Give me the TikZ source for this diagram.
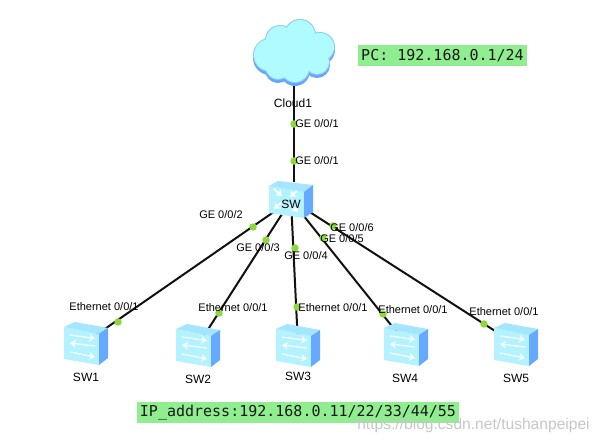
\documentclass[tikz,border=0pt]{standalone}
\usepackage{fontspec}
\usetikzlibrary{arrows.meta}
\setmainfont{Liberation Sans}
\newfontfamily\monof{DejaVu Sans Mono}
\definecolor{wire}{HTML}{111111}
\definecolor{dotg}{HTML}{8CD93C}
\definecolor{boxg}{HTML}{90EE90}
\definecolor{icfront}{HTML}{B4F2FF}
\definecolor{ictop}{HTML}{A4E6FF}
\definecolor{icside}{HTML}{66AAFF}
\definecolor{cloudf}{HTML}{B0FBFF}
\definecolor{cloude}{HTML}{8CCBFF}
\definecolor{cloudb}{HTML}{6AA6F2}
\tikzset{
 wirel/.style={draw=wire,line width=1.5pt},
 portdot/.style={circle,fill=dotg,inner sep=0pt,minimum size=5.6pt},
 lab/.style={inner sep=0pt,font=\fontsize{8.25pt}{10pt}\selectfont,text=black},
 devlab/.style={inner sep=0pt,font=\fontsize{9pt}{11pt}\selectfont,text=black},
 note/.style={fill=boxg,inner sep=0pt,font=\fontsize{11.25pt}{13pt}\selectfont\monof,text=black!90},
 whitearrow/.style={draw=white,opacity=0.85,line width=1pt,-{Stealth[length=4.5pt,width=6pt]}},
 corearrow/.style={draw=white,line width=1.4pt,-{Stealth[length=4.5pt,width=6pt]}},
 pics/cloudicon/.style={code={
   \foreach \px/\py/\pr in {270/55/17,280/40/15,300/35/16,320/47/15,317/62/13,295/68/15,278/67/13,295/52/20}{
     \fill[cloudb] (\px,\py+3) circle[radius=\pr*0.75pt];}
   \foreach \px/\py/\pr in {270/55/17,280/40/15,300/35/16,320/47/15,317/62/13,295/68/15,278/67/13,295/52/20}{
     \fill[cloude] (\px,\py) circle[radius=\pr*0.75pt];}
   \foreach \px/\py/\pr in {270/55/17,280/40/15,300/35/16,320/47/15,317/62/13,295/68/15,278/67/13,295/52/20}{
     \fill[cloudf] (\px,\py) circle[radius=(\pr-1)*0.75pt];}
 }},
 pics/accessicon/.style={code={
   \fill[icfront] (0,5)--(35,12)--(35,43)--(0,37)--cycle;
   \fill[ictop] (0,5)--(11,0)--(44,6)--(35,12)--cycle;
   \fill[icside] (35,12)--(44,6)--(44,36)--(35,43)--cycle;
   \draw[whitearrow] (6,13)--(31,16.5);
   \draw[whitearrow] (31,24)--(6,21);
   \draw[whitearrow] (6,30)--(31,35);
 }},
 pics/coreicon/.style={code={
   \fill[icfront] (0,5)--(35,11)--(35,37)--(0,32)--cycle;
   \fill[ictop] (0,5)--(9,0)--(44,4)--(35,11)--cycle;
   \fill[icside] (35,11)--(44,4)--(44,31)--(35,37)--cycle;
   \draw[corearrow] (5,8)--(13,15);
   \draw[corearrow] (28,10)--(21,16);
   \draw[corearrow] (13,21)--(5,28);
   \draw[corearrow] (21,23)--(29,31);
 }}
}
\begin{document}
\begin{tikzpicture}[x=0.75pt,y=-0.75pt]
\useasboundingbox (0,0) rectangle (602,444);
\fill[white] (0,0) rectangle (602,444);
% anchors of the devices
\coordinate (cloud) at (294,60);
\coordinate (sw) at (291,200);
\coordinate (swtop) at (294,182);
\coordinate (s1) at (86,342);
\coordinate (s2) at (198,345);
\coordinate (s3) at (298,345);
\coordinate (s4) at (407,345);
\coordinate (s5) at (520,347);
% connectors
\draw[wirel] (cloud) -- (swtop);
\draw[wirel] (sw) -- (s1);
\draw[wirel] (sw) -- (s2);
\draw[wirel] (sw) -- (s3);
\draw[wirel] (sw) -- (s4);
\draw[wirel] (sw) -- (s5);
% icons
\pic {cloudicon};
\pic at (269,181) {coreicon};
\pic at (64,322) {accessicon};
\pic at (176,324) {accessicon};
\pic at (276,324) {accessicon};
\pic at (384,323) {accessicon};
\pic at (494,323) {accessicon};
% port dots
\foreach \n/\x/\y in {a/294/124,b/294/161,c/253/227,d/266/240,e/295/248,f/323/238,g/333/226,h/118/322,i/219/313,j/297/307,k/383/314,l/484/324}
  \node[portdot] (dot\n) at (\x,\y) {};
% labels
\node[lab] (l1) at (317,124) {GE 0/0/1};
\node[lab] (l2) at (317,161) {GE 0/0/1};
\node[lab] (l3) at (221,215) {GE 0/0/2};
\node[lab] (l4) at (258,248) {GE 0/0/3};
\node[lab] (l5) at (306,256) {GE 0/0/4};
\node[lab] (l6) at (342,239) {GE 0/0/5};
\node[lab] (l7) at (352,228) {GE 0/0/6};
\node[lab] (e1) at (104,307) {Ethernet 0/0/1};
\node[lab] (e2) at (233,308) {Ethernet 0/0/1};
\node[lab] (e3) at (333,308) {Ethernet 0/0/1};
\node[lab] (e4) at (413,310) {Ethernet 0/0/1};
\node[lab] (e5) at (504,312) {Ethernet 0/0/1};
\node[devlab] (cl) at (293,103) {Cloud1};
\node[devlab] (swl) at (291,204) {SW};
\node[devlab] (n1) at (86,377) {SW1};
\node[devlab] (n2) at (198,379) {SW2};
\node[devlab] (n3) at (298,376) {SW3};
\node[devlab] (n4) at (405,378) {SW4};
\node[devlab] (n5) at (516,378) {SW5};
% notes
\node[note,minimum width=126.75pt,minimum height=15.75pt] (pc) at (442.5,55.5) {PC: 192.168.0.1/24};
\node[note,minimum width=241.5pt,minimum height=15.75pt] (ip) at (298,412.5) {IP\_address:192.168.0.11/22/33/44/55};
\node[inner sep=0pt,text=black!22,font=\fontsize{11.7pt}{13pt}\selectfont] (wm) at (473.5,425) {https://blog.csdn.net/tushanpeipei};
\end{tikzpicture}
\end{document}
